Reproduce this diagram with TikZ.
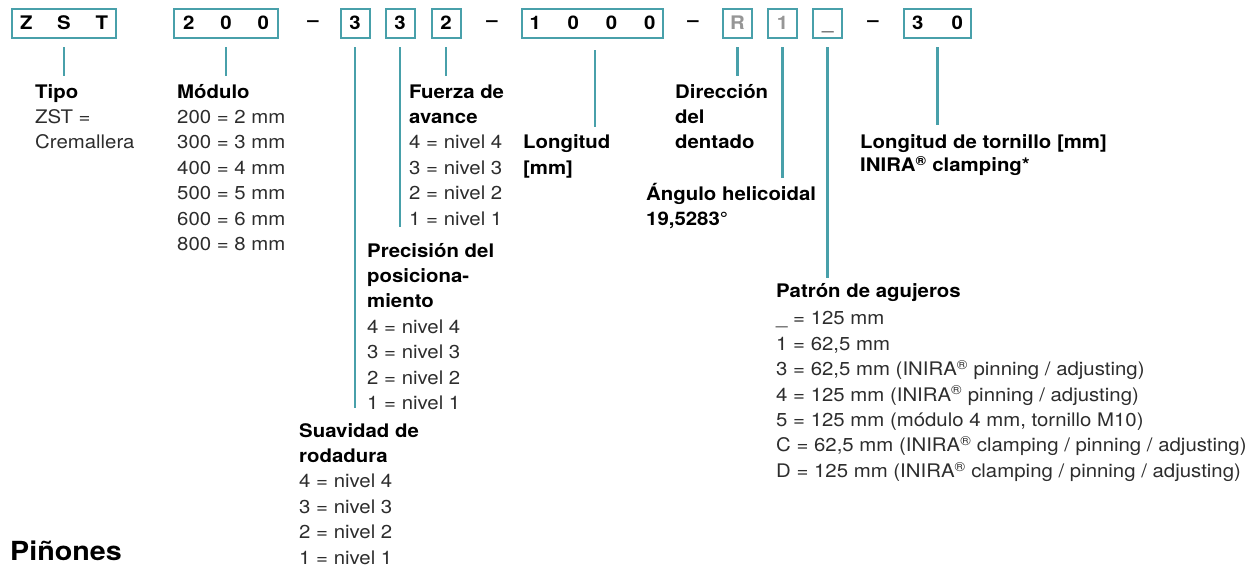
\documentclass[tikz,border=0pt]{standalone}
\usepackage{fontspec}
\setmainfont{TeX Gyre Heros}[FakeStretch=1.09]
\usetikzlibrary{calc}
\definecolor{teal1}{RGB}{72,160,170}
\definecolor{txt}{RGB}{45,45,45}
\definecolor{lgray}{RGB}{150,150,150}
\newcommand\hd[1]{\textbf{\textcolor{black}{#1}}}
\newcommand\blk[1]{\begin{tabular}[t]{@{}l@{}}#1\end{tabular}}
\newcommand\bodyfont{\fontsize{18.7pt}{25.4pt}\selectfont}
\begin{document}
\begin{tikzpicture}[x=1pt,y=1pt,
  box/.style={draw=teal1, line width=2pt, minimum height=29pt, minimum width=29pt, inner sep=0pt, text height=13.4pt, text depth=0pt, font=\bodyfont\bfseries, text=black},
  sepdash/.style={inner sep=0pt, font=\bodyfont\bfseries, text=black},
  lbl/.style={anchor=base west, inner sep=0pt, font=\bodyfont, text=txt},
  conn/.style={draw=teal1, line width=2.5pt}]
\useasboundingbox (0,0) rectangle (1248,-566);
% code boxes
\node[box, minimum width=104pt] (b1) at (64,-23) {\makebox[88pt]{Z\hfill S\hfill T}};
\node[box, minimum width=104pt] (b2) at (226,-23) {\makebox[86pt]{2\hfill 0\hfill 0}};
\node[sepdash] (d1) at (313,-24) {–};
\node[box] (b3) at (355,-23) {3};
\node[box] (b4) at (400,-23) {3};
\node[box] (b5) at (446,-23) {2};
\node[sepdash] (d2) at (492,-24) {–};
\node[box, minimum width=141pt] (b6) at (592.5,-23) {\makebox[126pt]{1\hfill 0\hfill 0\hfill 0}};
\node[sepdash] (d3) at (693,-24) {–};
\node[box, text=lgray] (b7) at (737.5,-23) {R};
\node[box, text=lgray] (b8) at (782.5,-23) {1};
\node[box, text=txt, font=\bodyfont] (b9) at (827.7,-23) {\_};
\node[sepdash] (d4) at (873,-24) {–};
\node[box, minimum width=67pt] (b10) at (937.5,-23) {\makebox[51pt]{3\hfill 0}};
% labels
\node[lbl] (tipo) at (35,-98) {\blk{\hd{Tipo}\\ZST =\\Cremallera}};
\node[lbl] (modulo) at (177,-98) {\blk{\hd{Módulo}\\200 = 2 mm\\300 = 3 mm\\400 = 4 mm\\500 = 5 mm\\600 = 6 mm\\800 = 8 mm}};
\node[lbl] (fuerza) at (409,-98) {\blk{\hd{Fuerza de}\\\hd{avance}\\4 = nivel 4\\3 = nivel 3\\2 = nivel 2\\1 = nivel 1}};
\node[lbl] (prec) at (367,-257) {\blk{\hd{Precisión del}\\\hd{posiciona-}\\\hd{miento}\\4 = nivel 4\\3 = nivel 3\\2 = nivel 2\\1 = nivel 1}};
\node[lbl] (suav) at (299,-437) {\blk{\hd{Suavidad de}\\\hd{rodadura}\\4 = nivel 4\\3 = nivel 3\\2 = nivel 2\\1 = nivel 1}};
\node[lbl] (long) at (523,-148) {\blk{\hd{Longitud}\\[1.5pt]\hd{[mm]}}};
\node[lbl] (dir) at (675,-98) {\blk{\hd{Dirección}\\\hd{del}\\\hd{dentado}}};
\node[lbl] (ang) at (646,-200) {\blk{\hd{Ángulo helicoidal}\\\hd{19,5283°}}};
\node[lbl] (patron) at (776,-297) {\blk{\hd{Patrón de agujeros}\\[2.5pt]\_ = 125 mm\\1 = 62,5 mm\\3 = 62,5 mm (INIRA\textsuperscript{®} pinning / adjusting)\\4 = 125 mm (INIRA\textsuperscript{®} pinning / adjusting)\\5 = 125 mm (módulo 4 mm, tornillo M10)\\C = 62,5 mm (INIRA\textsuperscript{®} clamping / pinning / adjusting)\\D = 125 mm (INIRA\textsuperscript{®} clamping / pinning / adjusting)}};
\node[lbl] (torn) at (860,-148) {\blk{\hd{Longitud de tornillo [mm]}\\[-1.5pt]\hd{INIRA\textsuperscript{®} clamping*}}};
\node[anchor=base west, inner sep=0pt, font=\fontsize{26.3pt}{30pt}\selectfont\bfseries, text=black] (pin) at (10,-560) {Piñones};
% connector ends
\coordinate (e1) at (64,-76);
\coordinate (e2) at (226,-76);
\coordinate (e3) at (355,-408);
\coordinate (e4) at (400,-227);
\coordinate (e5) at (446,-76);
\coordinate (e6) at (595,-127);
\coordinate (e7) at (737.5,-76);
\coordinate (e8) at (782.5,-178);
\coordinate (e9) at (827.7,-278);
\coordinate (e10) at (937.5,-125);
% connectors
\draw[conn] ([yshift=-8.5pt]b1.south) -- (e1);
\draw[conn] ([yshift=-8.5pt]b2.south) -- (e2);
\draw[conn] ([yshift=-8.5pt]b3.south) -- (e3);
\draw[conn] ([yshift=-8.5pt]b4.south) -- (e4);
\draw[conn] ([yshift=-8.5pt]b5.south) -- (e5);
\draw[conn] ([xshift=2.5pt,yshift=-11.5pt]b6.south) -- (e6);
\draw[conn] ([yshift=-8.5pt]b7.south) -- (e7);
\draw[conn] ([yshift=-8.5pt]b8.south) -- (e8);
\draw[conn] ([yshift=-8.5pt]b9.south) -- (e9);
\draw[conn] ([yshift=-8.5pt]b10.south) -- (e10);
\end{tikzpicture}
\end{document}
